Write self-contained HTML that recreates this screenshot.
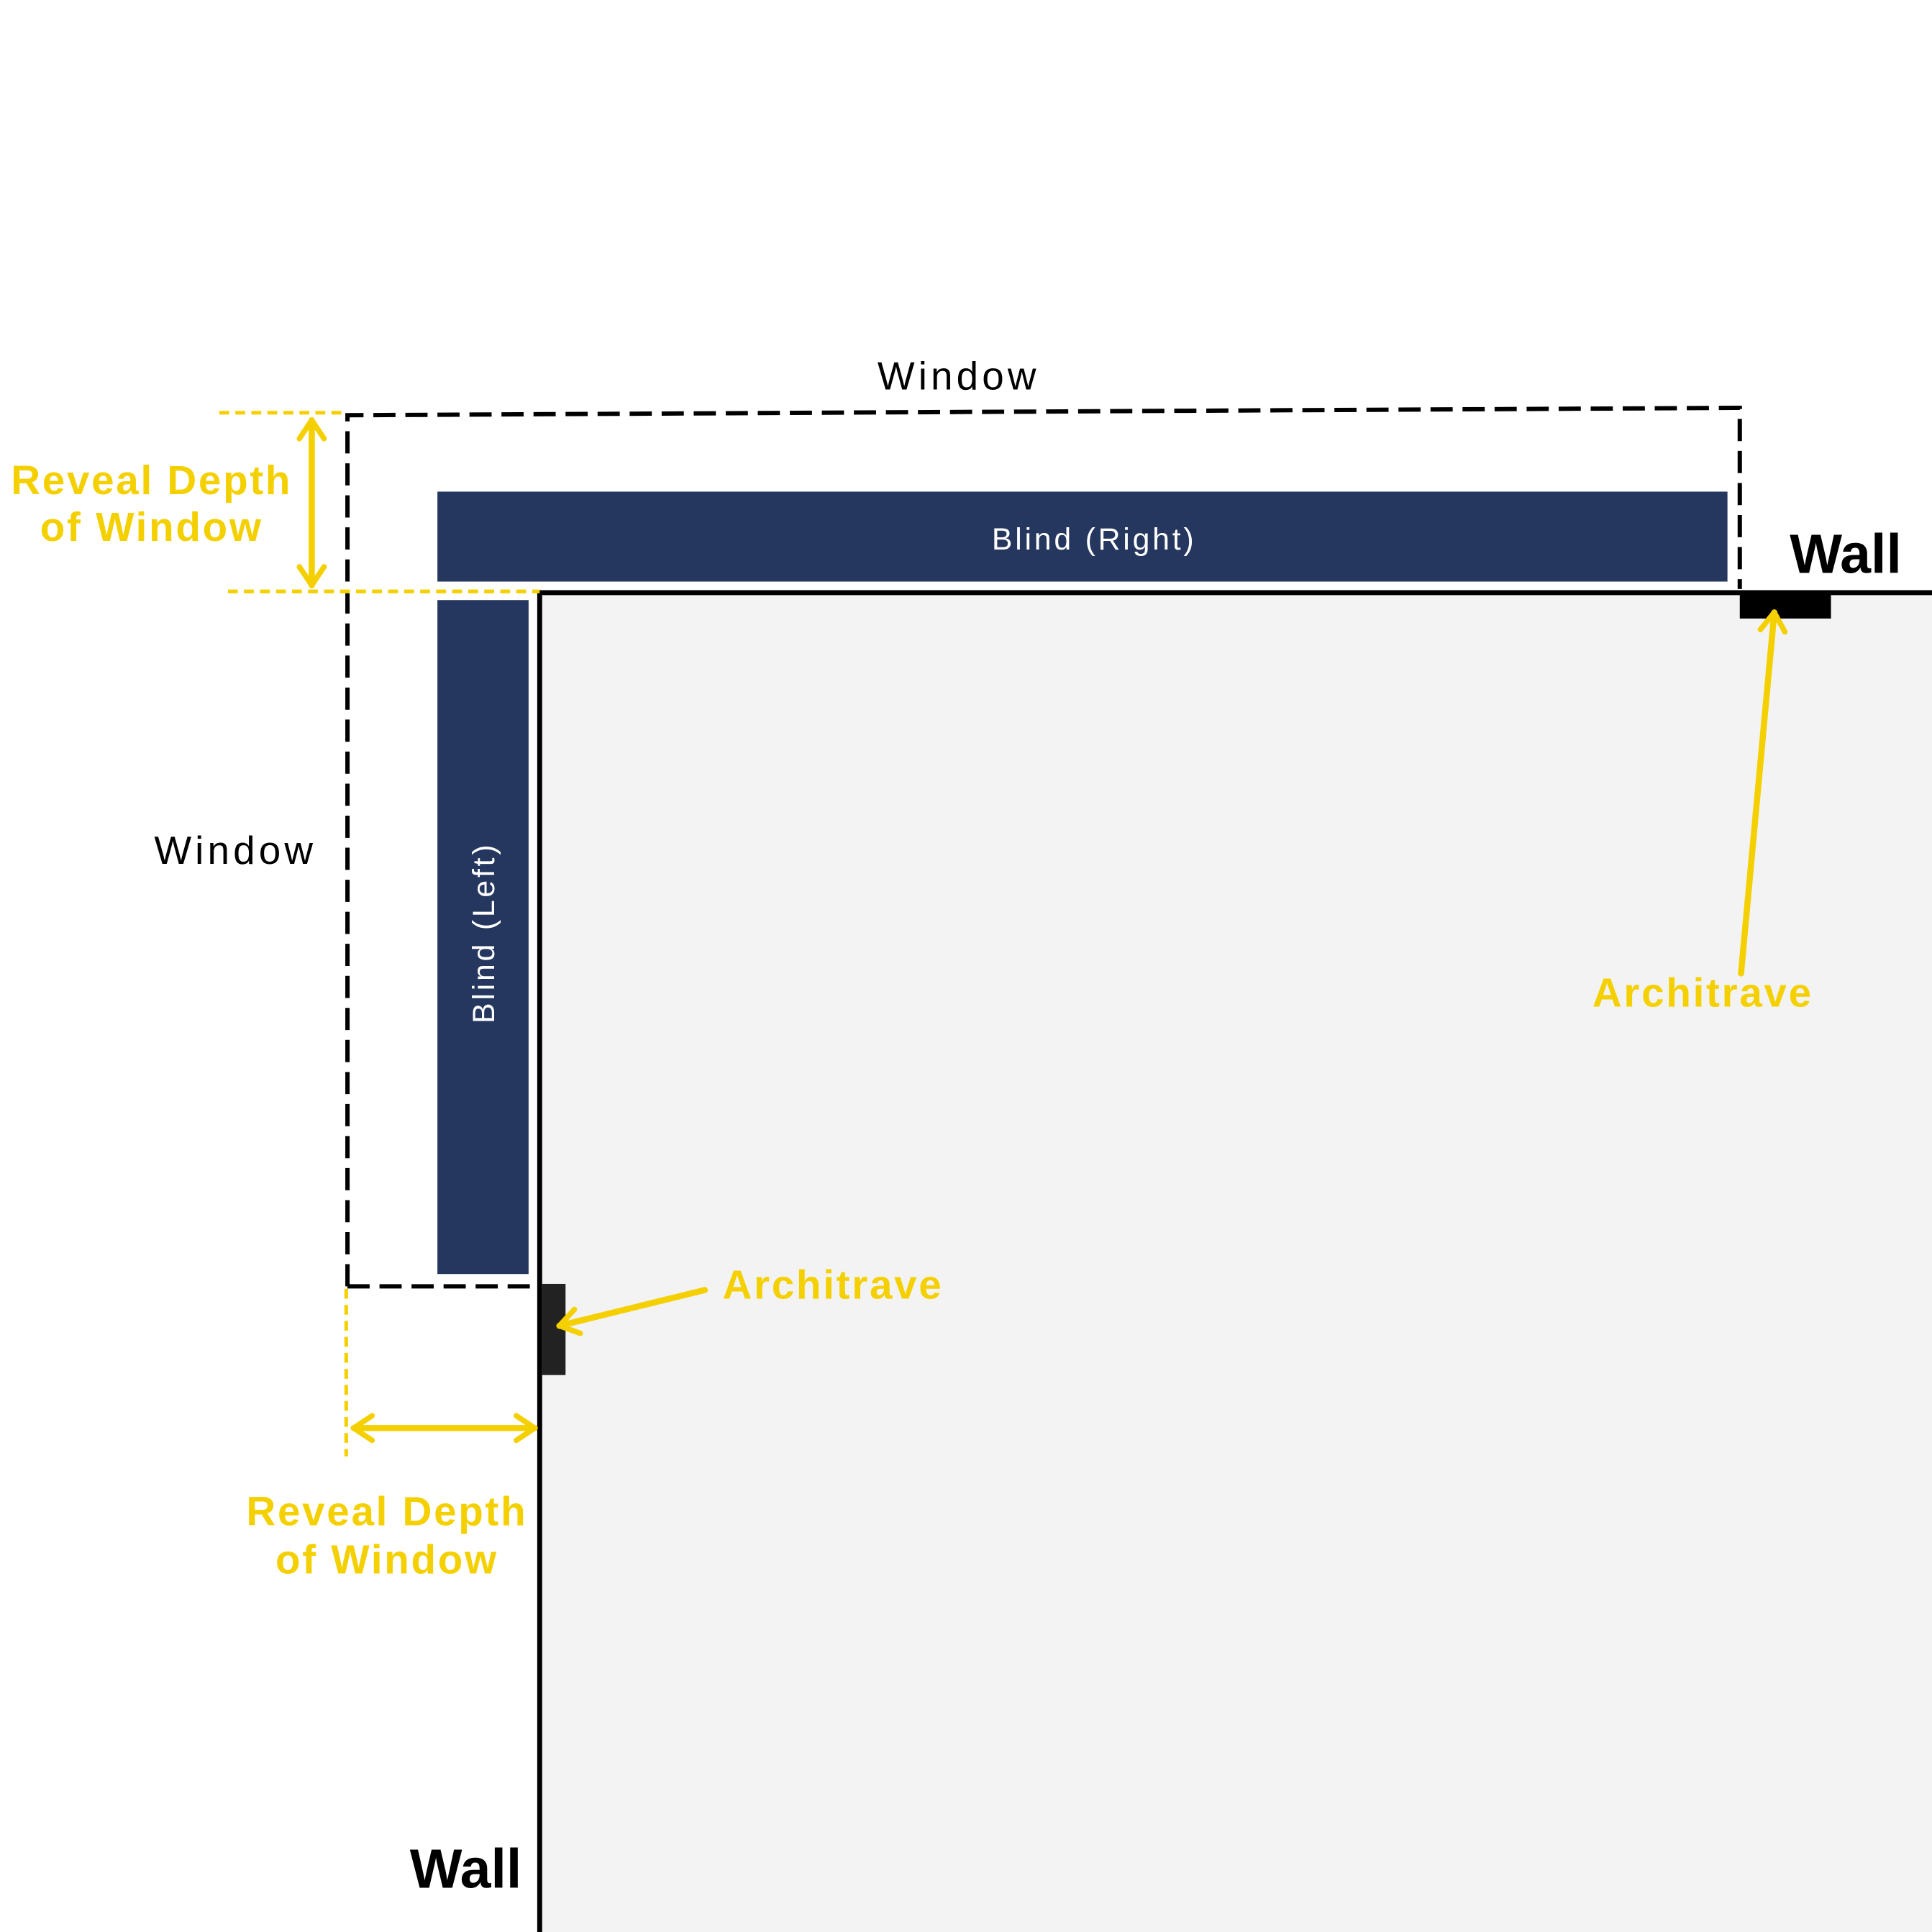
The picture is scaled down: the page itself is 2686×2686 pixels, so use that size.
<!DOCTYPE html>
<html><head><meta charset="utf-8"><style>
html,body{margin:0;padding:0;background:#fff;}
svg{display:block;}
text{font-family:"Liberation Sans",sans-serif;}
</style></head><body>
<svg width="2686" height="2686" viewBox="0 0 1568 1568" xmlns="http://www.w3.org/2000/svg">
<defs>
<marker id="ah" viewBox="0 0 20 20" refX="14" refY="10" markerWidth="5" markerHeight="5" orient="auto-start-reverse" markerUnits="strokeWidth">
<path d="M2,2 L14,10 L2,18" fill="none" stroke="#f5d000" stroke-width="3.5" stroke-linecap="round" stroke-linejoin="round"/>
</marker>
</defs>
<rect width="1568" height="1568" fill="#fff"/>
<rect x="438" y="481" width="1130" height="1087" fill="#f3f3f3"/>
<path d="M438,1568 L438,481 L1568,481" fill="none" stroke="#000" stroke-width="4"/>
<path d="M282,1044 L282,337 L1412,331 L1412,478" fill="none" stroke="#000" stroke-width="3.5" stroke-dasharray="18,8"/>
<path d="M282,1044 L436,1044" fill="none" stroke="#000" stroke-width="3.5" stroke-dasharray="18,8"/>
<rect x="355" y="399" width="1047" height="73" fill="#25375e"/>
<rect x="355" y="487" width="74" height="547" fill="#25375e"/>
<text x="888" y="446" font-size="25" fill="#fff" text-anchor="middle" letter-spacing="2.2">Blind (Right)</text>
<text transform="translate(401,757) rotate(-90)" font-size="25" fill="#fff" text-anchor="middle" letter-spacing="2.2">Blind (Left)</text>
<rect x="1412" y="481" width="74" height="21" fill="#000"/>
<rect x="440" y="1042" width="19" height="74" fill="#222"/>
<g stroke="#f5d000" stroke-width="3" stroke-dasharray="8,5" fill="none">
<path d="M178,335 L282,335"/>
<path d="M185,480 L438,480"/>
<path d="M281,1046 L281,1182"/>
</g>
<g stroke="#f5d000" stroke-width="5" fill="none" stroke-linecap="round">
<path d="M253,341 L253,475" marker-start="url(#ah)" marker-end="url(#ah)"/>
<path d="M287,1159 L434,1159" marker-start="url(#ah)" marker-end="url(#ah)"/>
<path d="M572,1047 L454,1076" marker-end="url(#ah)"/>
<path d="M1413,790 L1440,497" marker-end="url(#ah)"/>
</g>
<g fill="#f5d000" font-weight="bold" font-size="33" text-anchor="middle" letter-spacing="1.6">
<text x="123" y="401">Reveal Depth</text>
<text x="123" y="439">of Window</text>
<text x="314" y="1238">Reveal Depth</text>
<text x="314" y="1277">of Window</text>
<text x="676" y="1054">Architrave</text>
<text x="1382" y="817">Architrave</text>
</g>
<g fill="#000" font-size="32" text-anchor="middle" letter-spacing="3">
<text x="778" y="316">Window</text>
<text x="191" y="701">Window</text>
</g>
<g fill="#000" font-size="45" font-weight="bold" text-anchor="middle">
<text x="1498" y="465">Wall</text>
<text x="378" y="1532">Wall</text>
</g>
</svg>
</body></html>
